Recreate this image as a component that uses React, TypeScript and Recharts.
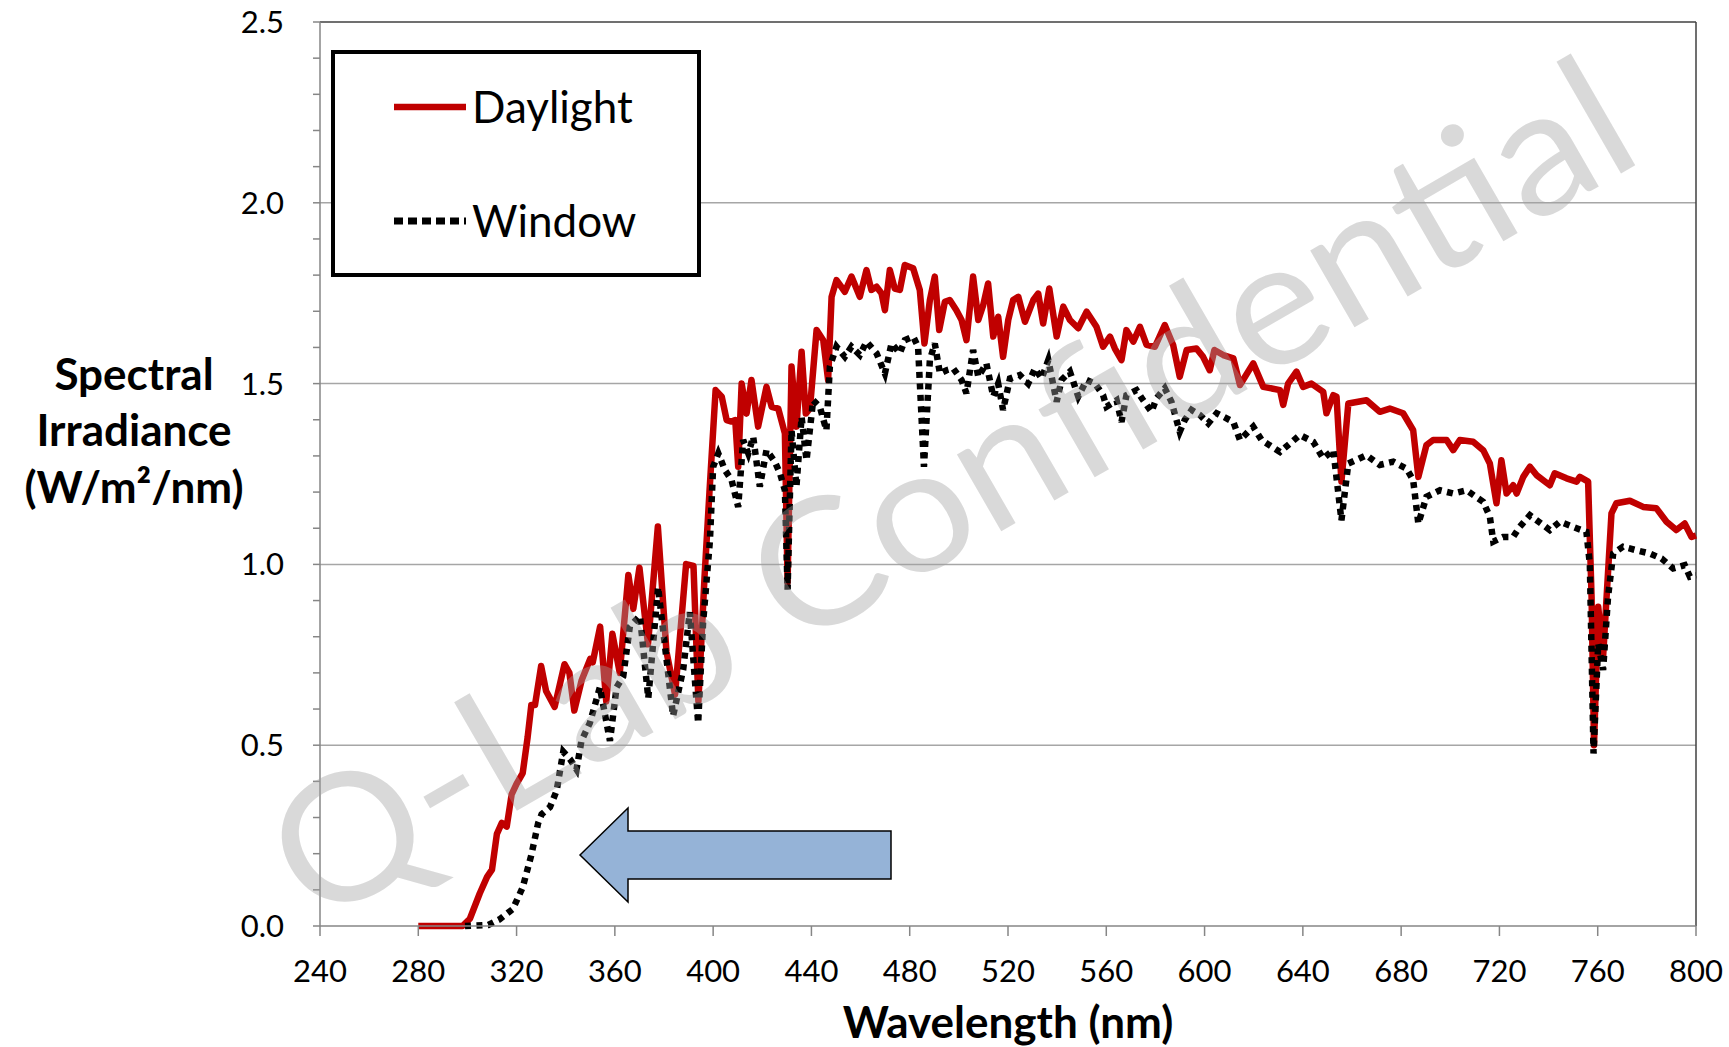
// @ts-nocheck
import React from 'react';
import { LineChart, Line, XAxis, YAxis, ReferenceLine, Legend } from 'recharts';

// wavelength (nm) and spectral irradiance (W/m2/nm)
const daylightNm = [
    280, 290, 298, 301, 305, 308, 310, 312, 314, 316, 318, 320, 322.5, 324.5, 326, 327.5, 330, 332, 335.5, 339.5,
    341.5, 343.5, 346.5, 350, 351, 354, 356.5, 359, 362, 365.5, 367.5, 370, 373.5, 377.5, 381, 384.5, 389, 392, 394, 396.5,
    398.5, 401, 403.5, 405.5, 407.5, 409, 410.2, 411.6, 413.6, 415.6, 418.3, 421.7, 423.8, 426.5, 429.2, 430.3, 431.9, 433.9, 436, 437.7,
    439.4, 442.1, 444.8, 446.8, 448.2, 450.2, 453.6, 456.3, 459.7, 462.4, 464.4, 466.5, 468.5, 469.9, 471.9, 473.9, 476, 478, 481.4, 484.1,
    486, 488.2, 490.2, 492, 494.3, 496.3, 499, 501.1, 503.1, 505.8, 507.9, 509.9, 511.9, 514, 516, 518, 520.1, 522.1, 524.2, 526.9,
    530.3, 532.3, 534.3, 536.8, 539.8, 542.5, 545.2, 548.6, 552, 556, 558.7, 561.5, 563.5, 566.2, 568.2, 571, 573.7, 576.4, 579.8, 583.8,
    587.2, 589.9, 592.7, 596.7, 599.4, 602.1, 604, 607.6, 611.7, 614.4, 619.8, 623.9, 630.7, 632, 634, 637.4, 640.1, 643.5, 648.3, 649.6,
    652.4, 653.7, 655.7, 658.5, 665.9, 671.3, 675.4, 680.8, 684.9, 687, 690.3, 693, 698.5, 701.2, 703.9, 709.3, 713.4, 716.1, 718.8, 720.8,
    722.9, 725.6, 727, 729.7, 732.4, 735.1, 740.5, 742.5, 747.3, 751.4, 752.7, 756.1, 757.5, 758.5, 760.2, 762.2, 765.6, 767.6, 773.1, 778.5,
    783.9, 788, 792, 795.4, 798.2, 800,
];
const daylight = [
    0, 0, 0, 0.02, 0.09, 0.136, 0.156, 0.255, 0.285, 0.275, 0.364, 0.393, 0.423, 0.522, 0.611, 0.611, 0.719, 0.65, 0.606, 0.724,
    0.7, 0.596, 0.68, 0.739, 0.729, 0.828, 0.621, 0.808, 0.7, 0.971, 0.877, 0.991, 0.779, 1.105, 0.759, 0.64, 1.001, 0.996, 0.621, 0.966,
    1.2, 1.482, 1.464, 1.399, 1.395, 1.399, 1.27, 1.5, 1.417, 1.51, 1.381, 1.491, 1.436, 1.431, 1.362, 0.95, 1.547, 1.381, 1.588, 1.417,
    1.431, 1.648, 1.62, 1.51, 1.74, 1.786, 1.754, 1.796, 1.74, 1.814, 1.759, 1.768, 1.75, 1.703, 1.814, 1.763, 1.759, 1.828, 1.819, 1.759,
    1.611, 1.731, 1.796, 1.648, 1.726, 1.731, 1.703, 1.676, 1.62, 1.796, 1.676, 1.717, 1.777, 1.63, 1.685, 1.574, 1.676, 1.731, 1.74, 1.671,
    1.731, 1.749, 1.666, 1.763, 1.63, 1.713, 1.676, 1.653, 1.699, 1.657, 1.602, 1.63, 1.597, 1.565, 1.648, 1.616, 1.657, 1.607, 1.602, 1.662,
    1.607, 1.519, 1.593, 1.597, 1.574, 1.537, 1.593, 1.579, 1.57, 1.496, 1.556, 1.491, 1.482, 1.441, 1.5, 1.533, 1.491, 1.5, 1.477, 1.418,
    1.468, 1.464, 1.229, 1.445, 1.454, 1.422, 1.431, 1.418, 1.371, 1.242, 1.33, 1.344, 1.344, 1.316, 1.344, 1.339, 1.316, 1.279, 1.169, 1.288,
    1.196, 1.219, 1.196, 1.242, 1.27, 1.247, 1.219, 1.252, 1.238, 1.229, 1.242, 1.229, 0.91, 0.5, 0.883, 0.745, 1.141, 1.169, 1.176, 1.159,
    1.155, 1.118, 1.095, 1.113, 1.076, 1.08,
];

const windowNm = [
    299, 308.5, 313, 318.5, 322.5, 326, 328.8, 330.2, 333.6, 336.3, 339, 341.7, 344.4, 346.4, 349.8, 353.9, 358, 360.7, 363.4, 366.1,
    370.2, 373.6, 377.6, 381, 383.7, 387.8, 390.5, 393.9, 395.9, 398.7, 400, 402.1, 404.8, 407.5, 410.2, 412.2, 414.3, 416.3, 419, 421.7,
    425.1, 427.2, 429.2, 430.3, 431.9, 433.9, 436, 438, 440.7, 443.4, 446.1, 447.5, 450.2, 453.6, 456.3, 459.7, 462.4, 466.5, 469.9, 472.6,
    476, 478, 481.4, 483.4, 485.8, 488.2, 490.2, 492.3, 495, 497.7, 501.1, 503.1, 505.8, 507.9, 511.2, 514, 516, 518, 520.8, 524.8,
    528.2, 531, 533.7, 536.4, 539.8, 541.8, 545.2, 548.6, 552, 555.4, 558.7, 560.1, 564.2, 566.2, 568.2, 572.3, 575, 578.4, 580.4, 583.8,
    586.5, 589.9, 591.9, 594.7, 598.1, 601.5, 604.9, 611.7, 614.4, 619.8, 623.2, 630.7, 634.7, 638.8, 644.2, 648.3, 652.4, 655.7, 658.5, 665.9,
    671.3, 676.8, 682.2, 684.9, 687, 690.3, 695.8, 701.2, 706.6, 713.4, 716.1, 717.5, 721.5, 725.6, 728.3, 732.4, 740.5, 744.6, 751.4, 755.4,
    756.8, 758.3, 760.2, 762.2, 764.2, 766.3, 770.3, 775.8, 781.2, 786, 790.7, 795.4, 797.5, 800,
];
const windowVals = [
    0, 0.003, 0.018, 0.047, 0.107, 0.196, 0.285, 0.309, 0.329, 0.374, 0.482, 0.462, 0.433, 0.512, 0.561, 0.66, 0.512, 0.66, 0.69, 0.828,
    0.858, 0.63, 0.937, 0.739, 0.581, 0.709, 0.868, 0.561, 0.838, 1.067, 1.27, 1.307, 1.261, 1.233, 1.159, 1.344, 1.307, 1.353, 1.215, 1.316,
    1.284, 1.252, 1.205, 0.93, 1.371, 1.215, 1.408, 1.288, 1.454, 1.436, 1.371, 1.547, 1.602, 1.574, 1.602, 1.579, 1.616, 1.584, 1.528, 1.611,
    1.584, 1.62, 1.63, 1.602, 1.27, 1.565, 1.611, 1.528, 1.537, 1.542, 1.51, 1.473, 1.593, 1.519, 1.556, 1.464, 1.5, 1.427, 1.514, 1.524,
    1.5, 1.542, 1.514, 1.565, 1.45, 1.51, 1.533, 1.464, 1.51, 1.5, 1.468, 1.436, 1.454, 1.394, 1.468, 1.482, 1.454, 1.422, 1.459, 1.487,
    1.45, 1.367, 1.399, 1.427, 1.413, 1.39, 1.418, 1.394, 1.344, 1.381, 1.344, 1.311, 1.334, 1.358, 1.339, 1.293, 1.316, 1.122, 1.279, 1.302,
    1.275, 1.284, 1.265, 1.233, 1.113, 1.187, 1.205, 1.196, 1.205, 1.173, 1.132, 1.063, 1.076, 1.076, 1.104, 1.136, 1.095, 1.118, 1.1, 1.09,
    1.0, 0.477, 0.781, 0.708, 0.91, 1.03, 1.049, 1.039, 1.03, 1.016, 0.989, 0.998, 0.966, 0.97,
];

const xTicks = [240, 280, 320, 360, 400, 440, 480, 520, 560, 600, 640, 680, 720, 760, 800];
const yTicks = [0, 0.1, 0.2, 0.3, 0.4, 0.5, 0.6, 0.7, 0.8, 0.9, 1.0, 1.1, 1.2, 1.3, 1.4, 1.5, 1.6, 1.7, 1.8, 1.9, 2.0, 2.1, 2.2, 2.3, 2.4, 2.5];
const yGrid = [0.5, 1.0, 1.5, 2.0];

// merge both series on one wavelength axis
const rows = (() => {
    const map = new Map();
    daylightNm.forEach((nm, i) => {
        const r = map.get(nm) || { nm };
        r.daylight = daylight[i];
        map.set(nm, r);
    });
    windowNm.forEach((nm, i) => {
        const r = map.get(nm) || { nm };
        r.window = windowVals[i];
        map.set(nm, r);
    });
    return Array.from(map.values()).sort((a, b) => a.nm - b.nm);
})();

const FONT = 'Lato, "Open Sans", sans-serif';
const RED = '#c00000';

const LegendBox = () => (
    <div style={{ width: 362, height: 219, border: '4px solid #000', background: '#fff', position: 'relative', fontFamily: FONT }}>
        <svg width={362} height={219} style={{ position: 'absolute', left: 0, top: 0 }}>
            <line x1={59} x2={131} y1={53} y2={53} stroke={RED} strokeWidth={6.5} />
            <text x={137} y={53} dy="0.36em" fontSize={44} fill="#000" fontFamily={FONT}>Daylight</text>
            <line x1={59} x2={131} y1={167} y2={167} stroke="#000" strokeWidth={7} strokeDasharray="9 5" />
            <text x={137} y={167} dy="0.36em" fontSize={44} fill="#000" fontFamily={FONT}>Window</text>
        </svg>
    </div>
);

const YTitle = () => (
    <text textAnchor="middle" fontFamily={FONT} fontWeight={700} fontSize={44} fill="#000">
        <tspan x={134} y={390}>Spectral</tspan>
        <tspan x={134} y={446}>Irradiance</tspan>
        <tspan x={134} y={503}>(W/m²/nm)</tspan>
    </text>
);

const XTitle = () => (
    <text x={1008} y={1038} textAnchor="middle" fontFamily={FONT} fontWeight={700} fontSize={44} fill="#000">
        Wavelength (nm)
    </text>
);

const App = () => (
    <div style={{ position: 'absolute', left: 0, top: 0, width: 1729, height: 1047, background: '#fff' }}>
        <LineChart width={1729} height={1047} data={rows} margin={{ top: 22, right: 33, left: 0, bottom: 0 }}>
            {yGrid.map((v) => (
                <ReferenceLine key={v} y={v} stroke="#a6a6a6" strokeWidth={1.5} />
            ))}
            <ReferenceLine y={2.5} stroke="#404040" strokeWidth={1.5} />
            <ReferenceLine x={800} stroke="#404040" strokeWidth={1.5} />
            <XAxis
                dataKey="nm"
                type="number"
                domain={[240, 800]}
                ticks={xTicks}
                interval={0}
                height={121}
                tickSize={10}
                tickMargin={24}
                stroke="#868686"
                strokeWidth={1.5}
                tick={{ fontSize: 31, fill: '#000', fontFamily: FONT }}
                label={{ content: XTitle }}
            />
            <YAxis
                type="number"
                domain={[0, 2.5]}
                ticks={yTicks}
                interval={0}
                width={320}
                tickSize={7}
                tickMargin={29}
                stroke="#868686"
                strokeWidth={1.5}
                tick={{ fontSize: 31, fill: '#000', fontFamily: FONT }}
                tickFormatter={(v) => (Math.abs(v * 2 - Math.round(v * 2)) < 1e-6 ? v.toFixed(1) : '')}
                label={{ content: YTitle }}
            />
            <Legend
                layout="horizontal"
                align="center"
                verticalAlign="middle"
                content={LegendBox}
                wrapperStyle={{ left: 331, top: 50, width: 370, height: 227 }}
            />
            <Line
                dataKey="daylight"
                type="linear"
                stroke={RED}
                strokeWidth={6.5}
                strokeLinejoin="round"
                dot={false}
                connectNulls
                isAnimationActive={false}
            />
            <Line
                dataKey="window"
                type="linear"
                stroke="#000"
                strokeWidth={6.5}
                strokeDasharray="6 5.5"
                dot={false}
                connectNulls
                isAnimationActive={false}
            />
        </LineChart>
        <svg width={1729} height={1047} style={{ position: 'absolute', left: 0, top: 0, pointerEvents: 'none' }}>
            <polygon
                points="580,855 628,808 628,831 891,831 891,879 628,879 628,902"
                fill="#95b3d7"
                stroke="#000"
                strokeWidth={1.5}
            />
            <text
                x={981}
                y={543}
                textAnchor="middle"
                fontFamily={FONT}
                fontSize={175}
                fill="#a0a0a0"
                fillOpacity={0.4}
                textLength={1538}
                lengthAdjust="spacingAndGlyphs"
                transform="rotate(-30 981 543)"
            >
                Q-Lab Confidential
            </text>
        </svg>
    </div>
);

export default App;
